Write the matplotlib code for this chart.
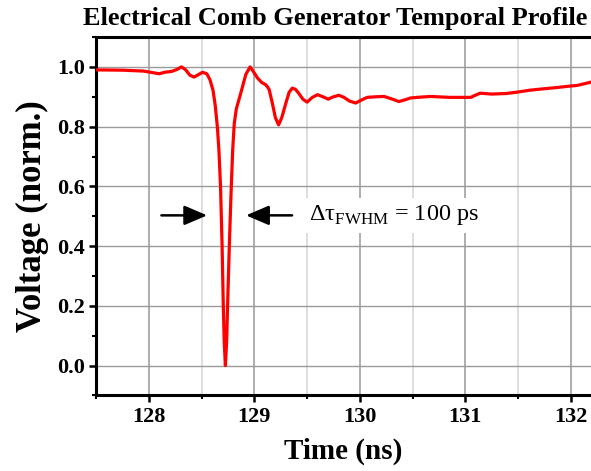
import matplotlib
matplotlib.use("Agg")

import numpy as np
import matplotlib.pyplot as plt
from matplotlib.ticker import MultipleLocator

# trace (time in ns, normalised voltage)
time_ns = [127.50, 127.75, 127.95, 128.05, 128.10, 128.15, 128.22, 128.27, 128.31,
           128.35, 128.39, 128.43, 128.47, 128.51, 128.55, 128.58, 128.61,
           128.63, 128.65, 128.665, 128.68, 128.695, 128.705, 128.715, 128.726,
           128.738, 128.75, 128.765, 128.78, 128.795, 128.81, 128.83, 128.87,
           128.92, 128.96, 128.99, 129.03, 129.07, 129.11, 129.14, 129.17,
           129.20, 129.23, 129.26, 129.30, 129.33, 129.36, 129.39, 129.42,
           129.46, 129.50, 129.55, 129.60, 129.65, 129.70, 129.75, 129.80,
           129.85, 129.90, 129.96, 130.02, 130.07, 130.15, 130.23, 130.30,
           130.37, 130.43, 130.48, 130.58, 130.67, 130.85, 131.05, 131.10,
           131.14, 131.25, 131.39, 131.50, 131.61, 131.75, 131.87, 131.97,
           132.06, 132.19]
voltage = [0.990, 0.989, 0.986, 0.980, 0.977, 0.982, 0.985, 0.992, 1.000,
           0.990, 0.972, 0.966, 0.974, 0.982, 0.977, 0.957, 0.920,
           0.870, 0.800, 0.720, 0.600, 0.400, 0.220, 0.080, 0.000,
           0.080, 0.240, 0.420, 0.580, 0.720, 0.810, 0.860, 0.910,
           0.975, 1.000, 0.985, 0.963, 0.948, 0.940, 0.925, 0.880,
           0.830, 0.806, 0.830, 0.880, 0.915, 0.929, 0.925, 0.912,
           0.892, 0.882, 0.898, 0.907, 0.900, 0.892, 0.900, 0.905,
           0.898, 0.886, 0.879, 0.890, 0.898, 0.900, 0.901, 0.893,
           0.884, 0.890, 0.896, 0.899, 0.901, 0.898, 0.898, 0.906,
           0.912, 0.909, 0.911, 0.916, 0.922, 0.927, 0.931, 0.935,
           0.938, 0.949]

# FWHM marker arrows (tail, tip) and label
arrow_left = (128.12, 128.553)
arrow_right = (129.358, 128.922)
arrow_level = 0.503
fwhm_label = r"Δτ$_{\mathregular{FWHM}}$ = 100 ps"

plt.rcParams["font.family"] = ["Liberation Serif", "DejaVu Serif"]
plt.rcParams["mathtext.fontset"] = "custom"
plt.rcParams["mathtext.rm"] = "Liberation Serif"

fig = plt.figure(figsize=(5.91, 4.71), dpi=100)
ax = fig.add_axes([0.1624, 0.1603, 0.8376, 0.7611])

ax.set_xlim(127.5, 132.19)
ax.set_ylim(-0.1, 1.1)
ax.xaxis.set_major_locator(MultipleLocator(1))
ax.xaxis.set_minor_locator(MultipleLocator(0.5))
ax.yaxis.set_major_locator(MultipleLocator(0.2))
ax.yaxis.set_minor_locator(MultipleLocator(0.1))

ax.grid(which="major", axis="x", color="#a0a0a0", linewidth=1.2)
ax.grid(which="minor", axis="x", color="#d8d8d8", linewidth=1.2)
ax.grid(which="major", axis="y", color="#9a9a9a", linewidth=1.0)
ax.set_axisbelow(True)

ax.plot(time_ns, voltage, color="red", linewidth=2.3, zorder=3,
        solid_joinstyle="round")

for tail, tip in (arrow_left, arrow_right):
    ax.annotate("", xy=(tip, arrow_level), xytext=(tail, arrow_level),
                arrowprops=dict(arrowstyle="-|>,head_length=0.7,head_width=0.3",
                                color="black", lw=1.8, shrinkA=0, shrinkB=0,
                                mutation_scale=20))

ax.text(129.52, arrow_level, fwhm_label, fontsize=17.5, va="center", ha="left",
        bbox=dict(facecolor="white", edgecolor="none", pad=4), zorder=4)

for side in ("left", "top", "bottom"):
    ax.spines[side].set_linewidth(2.2)
ax.spines["right"].set_visible(False)

ax.tick_params(which="major", direction="out", length=5, width=1.8,
               labelsize=16, pad=3)
ax.tick_params(which="minor", direction="out", length=3, width=1.5)
for lab in ax.get_xticklabels() + ax.get_yticklabels():
    lab.set_fontweight("bold")

# title sits a bit left of the axes centre, as in the reference
fig.text(335 / 591, 1 - 18 / 471, "Electrical Comb Generator Temporal Profile",
         fontsize=19, fontweight="bold", ha="center", va="center")
ax.set_xlabel("Time (ns)", fontsize=21, fontweight="bold", labelpad=8)
ax.set_ylabel("Voltage (norm.)", fontsize=25, fontweight="bold", labelpad=6)

fig.savefig("out.png", dpi=100)
